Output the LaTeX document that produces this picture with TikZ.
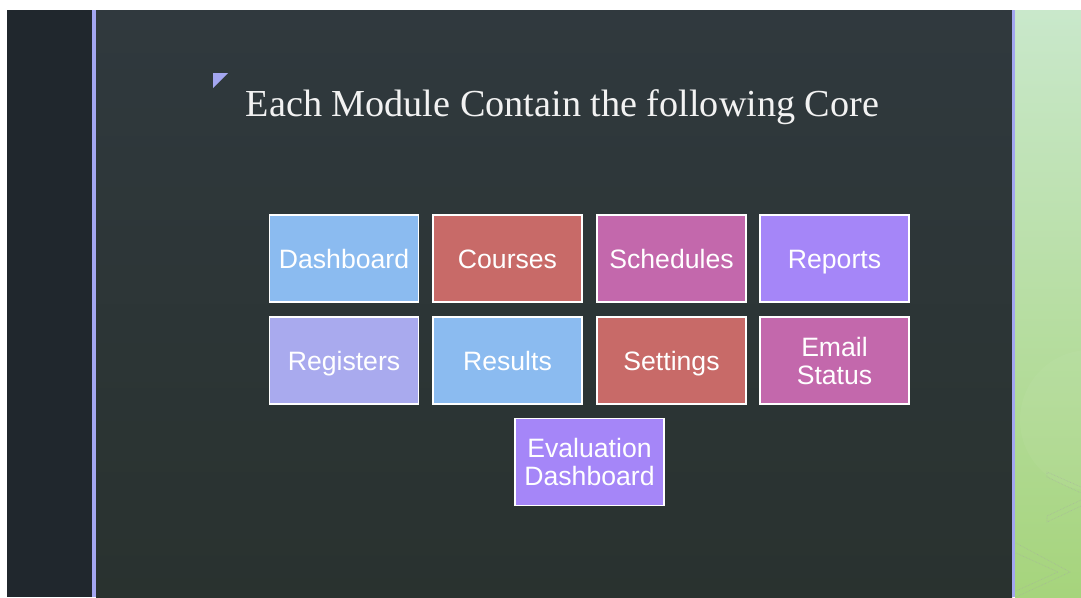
\documentclass[tikz,border=0pt]{standalone}
\usepackage{fontspec}
\setmainfont{Liberation Serif}
\setsansfont{Liberation Sans}
\usetikzlibrary{calc}

\definecolor{slidedark}{HTML}{20272D}
\definecolor{slidetop}{HTML}{30393E}
\definecolor{slidebot}{HTML}{29322F}
\definecolor{rule}{HTML}{A3A6F0}
\definecolor{greentop}{HTML}{C9E8CB}
\definecolor{greenbot}{HTML}{A6D47C}
\definecolor{cblue}{HTML}{8BBBF0}
\definecolor{cred}{HTML}{C86A68}
\definecolor{cmagenta}{HTML}{C368AC}
\definecolor{cpurple}{HTML}{A586F8}
\definecolor{clavender}{HTML}{A9AAEE}

\tikzset{
  core/.style={draw=white, line width=1.5pt, minimum width=149pt, minimum height=87pt,
    inner sep=0pt, align=center, text=white,
    font=\sffamily\fontsize{26.6}{28}\selectfont},
  oneline/.style={text height=22pt, text depth=3pt},
}

\begin{document}
\begin{tikzpicture}[x=1pt,y=-1pt]
  \useasboundingbox (0,0) rectangle (1081,597);
  \fill[white] (0,0) rectangle (1081,597);

  % slide background
  \fill[slidedark] (7,10) rectangle (92,597);
  \shade[top color=slidetop, bottom color=slidebot] (96,10) rectangle (1012,597);
  \shade[top color=greentop, bottom color=greenbot] (1015,10) rectangle (1081,597);
  \fill[white, opacity=0.04] (1090,420) circle [radius=70];
  \fill[rule] (92,10) rectangle (96,597);
  \fill[rule] (1012,10) rectangle (1015,597);

  % chevrons on the green strip
  \begin{scope}[draw=gray!70, densely dotted, line width=0.6pt, opacity=0.6]
    \draw (1081,487) -- (1047,472) -- (1047,477) -- (1081,493);
    \draw (1081,500) -- (1047,516) -- (1047,522) -- (1081,506);
    \draw (1016,543) -- (1070,572) -- (1016,597);
    \draw (1016,553) -- (1058,572) -- (1016,591);
  \end{scope}

  % title
  \fill[rule] (213,73) -- (228,73) -- (213,88) -- cycle;
  \node[anchor=base, text=white!95!black, inner sep=0pt,
    font=\fontsize{38.2}{40}\selectfont] (title) at (562.5,116)
    {Each Module Contain the following Core};

  % core boxes
  \node[core, oneline, fill=cblue]     (dash)  at (344,258.5)   {Dashboard};
  \node[core, oneline, fill=cred]      (cour)  at (507.5,258.5) {Courses};
  \node[core, oneline, fill=cmagenta]  (sched) at (671.5,258.5) {Schedules};
  \node[core, oneline, fill=cpurple]   (rep)   at (834.5,258.5) {Reports};

  \node[core, oneline, fill=clavender] (reg)   at (344,360.5)   {Registers};
  \node[core, oneline, fill=cblue]     (res)   at (507.5,360.5) {Results};
  \node[core, oneline, fill=cred]      (set)   at (671.5,360.5) {Settings};
  \node[core, fill=cmagenta]           (mail)  at (834.5,360.5) {Email\\Status};

  \node[core, fill=cpurple]            (eval)  at (589.5,462)   {Evaluation\\Dashboard};
\end{tikzpicture}
\end{document}
